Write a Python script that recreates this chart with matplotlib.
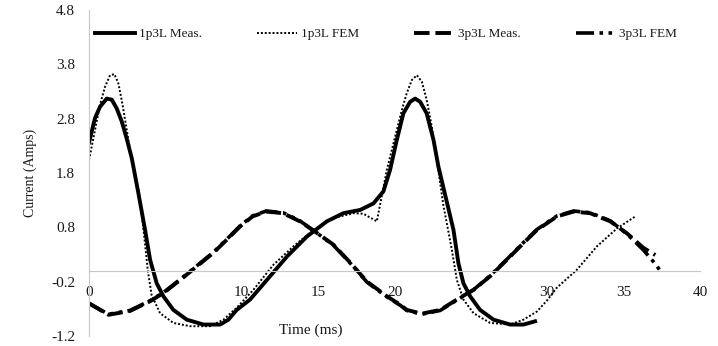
import numpy as np
import matplotlib
matplotlib.use('Agg')
import matplotlib.pyplot as plt

# 1p3L measured current (solid)
t_1p_meas = [0.0, 0.39, 0.72, 1.16, 1.49, 1.81, 2.14, 2.47, 2.8, 3.23, 3.67, 4.0, 4.43, 4.87, 5.52,
             6.4, 7.49, 8.58, 9.12, 9.67, 10.54, 11.64, 12.95, 14.26, 15.57, 16.65, 17.75, 18.62,
             19.27, 19.71, 20.15, 20.58, 21.02, 21.35, 21.68, 22.1, 22.55, 22.87, 23.86, 24.18,
             24.51, 24.95, 25.6, 26.48, 27.57, 28.44, 29.2]
i_1p_meas = [2.36, 2.81, 3.02, 3.17, 3.15, 2.99, 2.75, 2.43, 2.07, 1.43, 0.75, 0.2, -0.23, -0.47, -0.72,
             -0.9, -0.99, -0.99, -0.9, -0.72, -0.53, -0.17, 0.26, 0.63, 0.91, 1.06, 1.12, 1.24,
             1.46, 1.86, 2.41, 2.9, 3.11, 3.17, 3.11, 2.9, 2.41, 1.92, 0.75, 0.14,
             -0.23, -0.47, -0.72, -0.9, -0.99, -0.99, -0.93]

# 1p3L FEM current (dotted)
t_1p_fem = [0.0, 0.39, 0.72, 1.05, 1.38, 1.66, 1.92, 2.18, 2.47, 2.8, 3.23, 3.55, 3.85, 4.1, 4.65,
            5.52, 6.61, 7.92, 8.8, 9.67, 10.76, 12.07, 13.38, 14.69, 16.0, 17.31, 17.96, 18.84,
            19.5, 20.04, 20.48, 20.8, 21.13, 21.46, 21.79, 22.11, 22.44, 22.77, 23.2, 23.75, 24.08,
            24.51, 25.17, 26.26, 27.57, 28.44, 29.32, 29.97, 30.63, 31.94, 33.25, 34.56, 35.76]
i_1p_fem = [2.04, 2.59, 3.06, 3.39, 3.6, 3.62, 3.45, 3.08, 2.59, 2.04, 1.5, 0.8, 0.0, -0.45, -0.78,
            -0.96, -1.02, -1.02, -0.9, -0.68, -0.35, 0.11, 0.45, 0.75, 0.97, 1.06, 1.05, 0.91,
            1.86, 2.47, 2.96, 3.27, 3.51, 3.6, 3.48, 3.14, 2.65, 2.04, 1.2, 0.39, -0.17,
            -0.53, -0.78, -0.96, -0.99, -0.9, -0.75, -0.55, -0.31, 0.02, 0.45, 0.78, 1.0]

# 3p3L measured current (dashed)
t_3p_meas = [0.0, 1.27, 2.68, 4.0, 4.87, 5.96, 7.05, 8.14, 9.23, 9.9, 10.7, 11.6, 12.7, 13.8, 14.8,
             16.0, 17.1, 18.2, 19.5, 20.4, 20.8, 21.78, 22.99, 24.08, 25.17, 26.26, 27.35, 28.44,
             29.32, 30.63, 31.72, 32.81, 34.12, 35.21, 36.3, 37.07]
i_3p_meas = [-0.6, -0.81, -0.74, -0.56, -0.41, -0.17, 0.08, 0.33, 0.63, 0.82, 1.0, 1.09, 1.06, 0.91, 0.72,
             0.48, 0.15, -0.2, -0.47, -0.63, -0.72, -0.79, -0.72, -0.53, -0.35, -0.1, 0.2, 0.51,
             0.75, 1.0, 1.09, 1.06, 0.91, 0.69, 0.42, 0.29]

# 3p3L FEM current (dash-dot-dot)
t_3p_fem = [0.0, 1.27, 2.68, 4.0, 4.87, 5.96, 7.05, 8.14, 9.23, 9.9, 10.7, 11.6, 12.7, 13.8, 14.8,
            16.0, 17.1, 18.2, 19.5, 20.4, 20.8, 21.78, 22.99, 24.08, 25.17, 26.26, 27.35, 28.44,
            29.32, 30.63, 31.72, 32.81, 34.12, 35.21, 36.3, 37.0, 37.4]
i_3p_fem = [-0.6, -0.8, -0.73, -0.55, -0.4, -0.16, 0.09, 0.34, 0.64, 0.83, 1.01, 1.1, 1.07, 0.92, 0.72,
            0.47, 0.14, -0.21, -0.48, -0.64, -0.73, -0.8, -0.73, -0.54, -0.35, -0.09, 0.21, 0.52,
            0.76, 1.01, 1.1, 1.07, 0.92, 0.68, 0.38, 0.15, 0.0]

x_ticks = [0, 10, 15, 20, 30, 35, 40]
y_ticks = [-1.2, -0.2, 0.8, 1.8, 2.8, 3.8, 4.8]

plt.rcParams['font.family'] = ['Liberation Serif', 'DejaVu Serif']
txt_col = '#1a1a1a'
axis_col = '#c8c8c8'

fig = plt.figure(figsize=(7.18, 3.46), dpi=100)
ax = fig.add_axes([0.124, 0.029, 0.851, 0.942])

ax.plot(t_1p_meas, i_1p_meas, color='black', lw=2.8, ls='-', label='1p3L Meas.',
        solid_joinstyle='round')
ax.plot(t_1p_fem, i_1p_fem, color='black', lw=1.4, ls=(0, (1, 1)), label='1p3L FEM')
ax.plot(t_3p_meas, i_3p_meas, color='black', lw=2.8, ls=(0, (4, 1.5)), label='3p3L Meas.')
ax.plot(t_3p_fem, i_3p_fem, color='black', lw=2.6, ls=(0, (5, 1.5, 1, 1.5, 1, 1.5)), label='3p3L FEM')

ax.set_xlim(0, 40)
ax.set_ylim(-1.2, 4.8)
ax.set_xticks(x_ticks)
ax.set_yticks(y_ticks)
ax.set_yticklabels(['%.1f' % v for v in y_ticks])

for s in ['top', 'right']:
    ax.spines[s].set_visible(False)
ax.spines['bottom'].set_position(('data', 0))
ax.spines['bottom'].set_color(axis_col)
ax.spines['left'].set_color(axis_col)
ax.tick_params(axis='x', length=0, pad=11, labelsize=11, colors=txt_col)
ax.tick_params(axis='y', length=0, pad=10, labelsize=11, colors=txt_col)

ax.set_ylabel('Current (Amps)', fontsize=10, color=txt_col)
ax.yaxis.set_label_coords(-0.085, 0.5)
ax.text(14.54, -1.1, 'Time (ms)', ha='center', va='center', fontsize=11, color=txt_col)

leg = ax.legend(loc='upper left', bbox_to_anchor=(0.01, 0.945), ncol=4, frameon=False,
                fontsize=9.5, handlelength=3.0, handletextpad=0.3, columnspacing=4.2,
                borderaxespad=0, borderpad=0)
for t in leg.get_texts():
    t.set_color(txt_col)

fig.savefig('out.png', dpi=100)
